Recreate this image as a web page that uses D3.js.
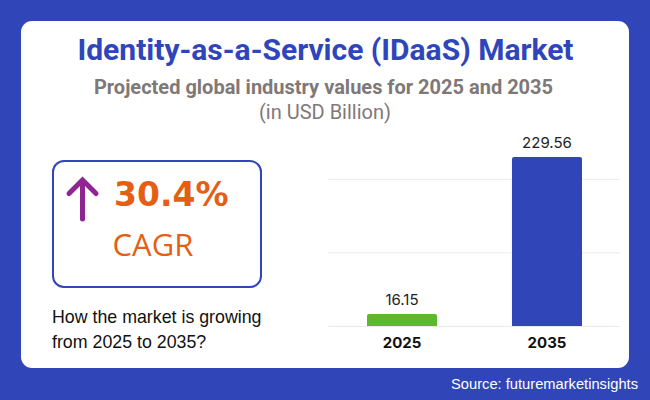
<!DOCTYPE html>
<html>
<head>
<meta charset="utf-8">
<script src="https://cdn.jsdelivr.net/npm/d3@7"></script>
<style>
	html, body { margin: 0; padding: 0; background: #3045b8; }
	svg { display: block; }
</style>
</head>
<body>
<div id="chart"></div>
<script>
const years = ["2025", "2035"];
const marketValues = [16.15, 229.56];
const valueLabels = ["16.15", "229.56"];
const barColours = ["#5cb82c", "#3045b8"];
const gridValues = [0, 100, 200];

const blue = "#3045b8";
const width = 650;
const height = 400;

const svg = d3.select("#chart")
	.append("svg")
	.attr("width", width)
	.attr("height", height);

// Background and white card
svg.append("rect").attr("width", width).attr("height", height).attr("fill", blue);
svg.append("rect")
	.attr("x", 21)
	.attr("y", 21)
	.attr("width", 608)
	.attr("height", 347)
	.attr("rx", 11)
	.attr("fill", "#fff");

function addText(x, y, text, font, size, weight, fill, anchor = "middle") {
	return svg.append("text")
		.attr("x", x)
		.attr("y", y)
		.attr("text-anchor", anchor)
		.attr("font-family", font)
		.attr("font-size", size)
		.attr("font-weight", weight)
		.attr("fill", fill)
		.text(text);
}

// Headings
addText(325.5, 60, "Identity-as-a-Service (IDaaS) Market", "Roboto", 30, 700, "#2e45bb");
addText(323.5, 94, "Projected global industry values for 2025 and 2035", "Roboto", 20, 700, "#7f7878");
addText(325, 119, "(in USD Billion)", "Roboto", 20, 400, "#7f7878");

// CAGR box
svg.append("rect")
	.attr("x", 53)
	.attr("y", 161)
	.attr("width", 208)
	.attr("height", 126)
	.attr("rx", 11)
	.attr("fill", "none")
	.attr("stroke", blue)
	.attr("stroke-width", 2);

svg.append("path")
	.attr("d", "M82.5 219V180M69 193.5L82.5 180L96 193.5")
	.attr("fill", "none")
	.attr("stroke", "#8e2590")
	.attr("stroke-width", 5)
	.attr("stroke-linecap", "round");

addText(114, 206, "30.4%", "DejaVu Sans", 33, 700, "#e45f14", "start");
addText(112.5, 256, "CAGR", "Open Sans", 31, 400, "#e45f14", "start");

addText(52, 323, "How the market is growing", "Liberation Sans", 17.8, 400, "#111", "start");
addText(52, 348, "from 2025 to 2035?", "Liberation Sans", 17.8, 400, "#111", "start");

// Bar chart
const x = d3.scaleBand()
	.domain(years)
	.range([328, 621])
	.paddingInner(0.517)
	.paddingOuter(0.269);

const y = d3.scaleLinear()
	.domain([0, 229.56])
	.range([326, 157]);

svg.selectAll(".grid")
	.data(gridValues)
	.enter()
	.append("line")
	.attr("class", "grid")
	.attr("x1", 328)
	.attr("x2", 620)
	.attr("y1", (d) => y(d) + 0.5)
	.attr("y2", (d) => y(d) + 0.5)
	.attr("stroke", "#f1e9e9");

// Rounded at the top only
function barPath(d, i) {
	const x0 = x(years[i]);
	const x1 = x0 + x.bandwidth();
	const top = y(d);
	const r = 2;
	return `M${x0} ${y(0)}V${top + r}Q${x0} ${top} ${x0 + r} ${top}H${x1 - r}Q${x1} ${top} ${x1} ${top + r}V${y(0)}Z`;
}

svg.selectAll(".bar")
	.data(marketValues)
	.enter()
	.append("path")
	.attr("class", "bar")
	.attr("d", barPath)
	.attr("fill", (d, i) => barColours[i]);

svg.selectAll(".value-label")
	.data(marketValues)
	.enter()
	.append("text")
	.attr("class", "value-label")
	.attr("x", (d, i) => x(years[i]) + x.bandwidth() / 2)
	.attr("y", (d) => y(d) - 9)
	.attr("text-anchor", "middle")
	.attr("font-family", "Inter")
	.attr("font-size", 15)
	.attr("fill", "#222")
	.text((d, i) => valueLabels[i]);

svg.selectAll(".year-label")
	.data(years)
	.enter()
	.append("text")
	.attr("class", "year-label")
	.attr("x", (d) => x(d) + x.bandwidth() / 2)
	.attr("y", 348)
	.attr("text-anchor", "middle")
	.attr("font-family", "Inter")
	.attr("font-size", 15)
	.attr("font-weight", 700)
	.attr("fill", "#111")
	.text((d) => d);

// Source
addText(638, 389, "Source: futuremarketinsights", "Liberation Sans", 14.7, 400, "#fff", "end");
</script>
</body>
</html>
